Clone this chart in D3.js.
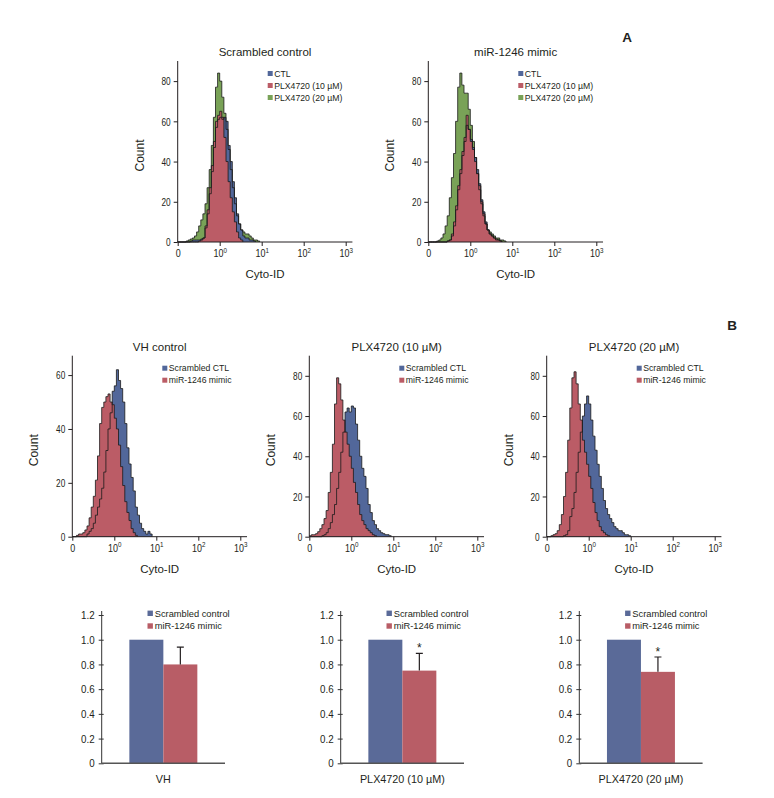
<!DOCTYPE html>
<html><head><meta charset="utf-8">
<script src="https://cdn.jsdelivr.net/npm/d3@7"></script>
<style>
html,body{margin:0;padding:0;background:#fff;}
svg{display:block;}
text{font-family:'Liberation Sans',Arial,Helvetica,sans-serif;fill:#231f20;}
</style></head>
<body>
<svg id="chart" width="774" height="798"></svg>
<script>
// ---------- DATA ----------
// histogram bins: width 0.05 decade-unit, first bin starts at axis position 0
const binWidth = 0.05;
const xTickPositions = [0, 1, 2, 3, 4];
const xTickBase = ["0", "10", "10", "10", "10"];
const xTickExp = ["", "0", "1", "2", "3"];
const xLabel = "Cyto-ID";
const yLabel = "Count";

// Panel A – Scrambled control
const aScrCTL = [0,0,0,0,0,0, 0.5,1,1,1,1,1.5,2,7,14,24,35,47,57,61,62,61,62,60,48,40,30,22,14,9,6,3,2,2,1,1,0.5];
const aScrP10 = [0,0,0,0,0,0,0,0,0,0, 0.5,1,2,8,16,27,38,50,60,63,65,62,52,40,30,22,15,10,5,2,1];
const aScrP20 = [0,0,0,0, 0.5,1,1.5,2,3,5,8,11,14,19,27,36,48,62,77,84,80,72,64,56,46,36,27,19,13,9,6,5,4,4,3,2,1,1,0.5];
// Panel A – miR-1246 mimic
const aMimCTL = [0,0,0,0,0,0,0,0,0, 0.5,1,3,8,16,26,34,43,50,58,56,51,47,42,36,29,21,15,10,6,4,3,2,1,1,0.5];
const aMimP10 = [0,0,0,0,0,0,0,0,0, 0.5,1,4,10,18,28,36,45,52,63,56,50,46,40,34,28,20,14,9,6,4,3,2,1.5,1,0.5];
const aMimP20 = [0,0,0,0, 0.5,1,2,4,8,13,22,32,44,60,77,84,78,74,74,66,58,50,42,34,26,19,13,9,6,5,4,3,2,2,1,1,0.5];
// Panel B – VH control
const bVHScr = [0,0,0,0,0,0,0, 1,2,3,5,8,11,14,18,24,32,40,46,54,56,62,58,55,50,42,33,27,22,17,11,8,5,3,2,1,2,1];
const bVHMim = [0,0, 0.5,1,1,1.5,2.5,4,7,11,15,21,30,42,48,50,52,53,50,49,44,40,34,26,19,13,9,6,3,1.5,0.5];
// Panel B – PLX4720 (10 µM)
const b10Scr = [0,0,0,0,0,0, 0.5,1,2,4,7,11,16,24,32,42,52,62,64,62,65,64,56,48,40,34,30,24,16,12,8,6,4,3,2,1.5,1,1,0.5];
const b10Mim = [0.5,1,1,1.5,2.5,4,6,9,13,22,32,46,66,79,76,68,58,52,46,40,34,27,22,16,11,8,6,4,3,2,1,0.5];
// Panel B – PLX4720 (20 µM)
const b20Scr = [0,0,0,0,0,0,0,0, 0.5,1,3,10,14,22,32,42,52,60,66,70,66,58,50,43,36,30,24,18,14,11,9,7,5,4,3,3,2,1,1,0.5];
const b20Mim = [0,0, 0.5,1,1.5,3,6,11,20,32,48,64,79,82,76,66,58,48,42,36,30,24,17,12,8,5,3,2,1,0.5];

const legendA = ["CTL", "PLX4720 (10 µM)", "PLX4720 (20 µM)"];
const legendB = ["Scrambled CTL", "miR-1246 mimic"];
const titlesA = ["Scrambled control", "miR-1246 mimic"];
const titlesB = ["VH control", "PLX4720 (10 µM)", "PLX4720 (20 µM)"];
const yTicksA = [0, 20, 40, 60, 80];
const yTicksVH = [0, 20, 40, 60];

// Bar charts
const barCategories = ["VH", "PLX4720 (10 µM)", "PLX4720 (20 µM)"];
const barSeries = ["Scrambled control", "miR-1246 mimic"];
const scrambledValues = [1.0, 1.0, 1.0];
const mimicValues = [0.80, 0.75, 0.74];
const mimicErrors = [0.14, 0.14, 0.12];
const significance = ["", "*", "*"];
const barTicks = [0, 0.2, 0.4, 0.6, 0.8, 1.0, 1.2];

// ---------- STYLE ----------
const BLUE = "#52679a", RED = "#bb5c66", GREEN = "#79a257";
const BAR_BLUE = "#5a6a98", BAR_RED = "#b85d66";

const svg = d3.select("#chart");

// condense tick label glyphs horizontally (keeps anchor position)
function condense(sel, k) {
  sel.each(function() {
    const t = d3.select(this);
    const x = +t.attr("x") || 0;
    t.attr("x", x / k).attr("transform", `scale(${k},1)`);
  });
}

function histogram(ox, oy, yMax, yTicks, title, legend, series) {
  const decade = 42, xMax = 4.16, h = 181;
  const x = d3.scaleLinear().domain([0, xMax]).range([ox, ox + decade * xMax]);
  const y = d3.scaleLinear().domain([0, yMax]).range([oy, oy - h]);
  const g = svg.append("g");
  const pts = c => c.map((v, i) => ({p: i * binWidth, v})).concat([{p: c.length * binWidth, v: 0}]);
  const area = d3.area().curve(d3.curveStepAfter).x(d => x(d.p)).y0(y(0)).y1(d => y(d.v));
  const line = d3.line().curve(d3.curveStepAfter).x(d => x(d.p)).y(d => y(d.v));
  series.forEach(s => g.append("path").attr("d", area(pts(s.counts))).attr("fill", s.color));
  series.forEach(s => g.append("path").attr("d", line(pts(s.counts))).attr("fill", "none")
    .attr("stroke", "#1a1a1a").attr("stroke-width", 0.8));

  // y axis
  const ya = g.append("g").attr("transform", `translate(${ox},0)`)
    .call(d3.axisLeft(y).tickValues(yTicks).tickSize(4).tickPadding(3).tickFormat(d3.format("d")));
  ya.select(".domain").attr("d", `M0,${y(0)}V${y(yMax)}`);
  // x axis
  const xa = g.append("g").attr("transform", `translate(0,${oy})`)
    .call(d3.axisBottom(x).tickValues(xTickPositions).tickSize(4).tickPadding(3).tickFormat(() => ""));
  xa.select(".domain").attr("d", `M${x(0)},0H${x(xMax)}`);
  [ya, xa].forEach(a => {
    a.selectAll(".domain").attr("stroke", "#231f20").attr("stroke-width", 1);
    a.selectAll(".tick line").attr("stroke", "#231f20");
    a.selectAll("text").attr("font-size", 11.5).attr("font-family", null);
  });
  xa.selectAll(".tick text").each(function(d, i) {
    const t = d3.select(this);
    t.append("tspan").text(xTickBase[i]);
    if (xTickExp[i]) t.append("tspan").attr("dy", -4.5).attr("font-size", 8).text(xTickExp[i]);
  });
  condense(ya.selectAll(".tick text"), 0.72);
  condense(xa.selectAll(".tick text"), 0.78);

  g.append("text").attr("x", (x(0) + x(xMax)) / 2).attr("y", y(yMax) - 5)
    .attr("text-anchor", "middle").attr("font-size", 11.5).text(title);
  g.append("text").attr("x", (x(0) + x(xMax)) / 2).attr("y", oy + 36)
    .attr("text-anchor", "middle").attr("font-size", 11.5).text(xLabel);
  g.append("text").attr("transform", `translate(${ox - 34},${(y(0) + y(yMax)) / 2 + 4}) rotate(-90)`)
    .attr("text-anchor", "middle").attr("font-size", 12).text(yLabel);

  const lg = g.append("g").attr("transform", `translate(${ox + 92.5},${y(yMax) + 12.5})`);
  legend.forEach((l, i) => {
    lg.append("rect").attr("x", -2.5).attr("y", i * 12 - 2.5).attr("width", 5).attr("height", 5).attr("fill", l.color);
    lg.append("text").attr("x", 4).attr("y", i * 12 + 3.2).attr("font-size", 8.7).text(l.label);
  });
}

function barChart(ox, idx) {
  const oy = 763.3, h = 148.3, w = 123.3;
  const y = d3.scaleLinear().domain([0, 1.2]).range([oy, oy - h]);
  const xb = d3.scaleBand().domain([barCategories[idx]]).range([ox, ox + w]).paddingOuter(0.407).paddingInner(0);
  const xs = d3.scaleBand().domain(barSeries).range([0, xb.bandwidth()]);
  const vals = [scrambledValues[idx], mimicValues[idx]];
  const cols = [BAR_BLUE, BAR_RED];
  const g = svg.append("g");
  const x0 = xb(barCategories[idx]);
  barSeries.forEach((s, i) => {
    g.append("rect").attr("x", x0 + xs(s)).attr("width", xs.bandwidth())
      .attr("y", y(vals[i])).attr("height", y(0) - y(vals[i])).attr("fill", cols[i]);
  });
  // error bar on mimic
  const cx = x0 + xs(barSeries[1]) + xs.bandwidth() / 2;
  const top = y(mimicValues[idx] + mimicErrors[idx]);
  g.append("path").attr("d", `M${cx},${y(mimicValues[idx])}V${top}M${cx - 3.5},${top}H${cx + 3.5}`)
    .attr("stroke", "#231f20").attr("stroke-width", 1.2).attr("fill", "none");
  if (significance[idx]) {
    g.append("text").attr("x", cx).attr("y", top - 1).attr("text-anchor", "middle")
      .attr("font-size", 12).text(significance[idx]);
  }
  // axes
  const ya = g.append("g").attr("transform", `translate(${ox},0)`)
    .call(d3.axisLeft(y).tickValues(barTicks).tickSize(3).tickPadding(4)
      .tickFormat(d => d === 0 ? "0" : d3.format(".1f")(d)));
  ya.select(".domain").attr("d", `M0,${y(0)}V${y(1.2) - 4}`).attr("stroke", "#333");
  ya.selectAll(".tick line").attr("x2", 2).attr("x1", -3).attr("stroke", "#333");
  ya.selectAll("text").attr("font-size", 11.5).attr("font-family", null);
  condense(ya.selectAll(".tick text"), 0.85);
  g.append("line").attr("x1", ox).attr("x2", ox + w).attr("y1", oy).attr("y2", oy)
    .attr("stroke", "#555").attr("stroke-width", 1.6);
  g.append("text").attr("x", x0 + xb.bandwidth() / 2).attr("y", oy + 20)
    .attr("text-anchor", "middle").attr("font-size", 10.8).text(barCategories[idx]);
  const lg = g.append("g").attr("transform", `translate(${ox + 48.5},${oy - 150})`);
  barSeries.forEach((s, i) => {
    lg.append("rect").attr("x", -2.7).attr("y", i * 12.7 - 2.7).attr("width", 5.4).attr("height", 5.4).attr("fill", cols[i]);
    lg.append("text").attr("x", 4.5).attr("y", i * 12.7 + 3.4).attr("font-size", 9.3).text(s);
  });
}

// ---------- PANEL A ----------
const legA = [{label: legendA[0], color: BLUE}, {label: legendA[1], color: RED}, {label: legendA[2], color: GREEN}];
histogram(177.7, 242, 90, yTicksA, titlesA[0], legA,
  [{counts: aScrP20, color: GREEN}, {counts: aScrCTL, color: BLUE}, {counts: aScrP10, color: RED}]);
histogram(428.3, 242, 90, yTicksA, titlesA[1], legA,
  [{counts: aMimP20, color: GREEN}, {counts: aMimCTL, color: BLUE}, {counts: aMimP10, color: RED}]);
svg.append("text").attr("x", 627).attr("y", 41.5).attr("text-anchor", "middle")
  .attr("font-size", 13.5).attr("font-weight", "bold").text("A");

// ---------- PANEL B ----------
const legB = [{label: legendB[0], color: BLUE}, {label: legendB[1], color: RED}];
histogram(72.3, 536.7, 67.2, yTicksVH, titlesB[0], legB,
  [{counts: bVHScr, color: BLUE}, {counts: bVHMim, color: RED}]);
histogram(309.3, 536.7, 90, yTicksA, titlesB[1], legB,
  [{counts: b10Scr, color: BLUE}, {counts: b10Mim, color: RED}]);
histogram(546.7, 536.7, 90, yTicksA, titlesB[2], legB,
  [{counts: b20Scr, color: BLUE}, {counts: b20Mim, color: RED}]);
svg.append("text").attr("x", 732).attr("y", 330).attr("text-anchor", "middle")
  .attr("font-size", 13.5).attr("font-weight", "bold").text("B");

barChart(101.7, 0);
barChart(340.7, 1);
barChart(579.3, 2);
</script>
</body></html>
